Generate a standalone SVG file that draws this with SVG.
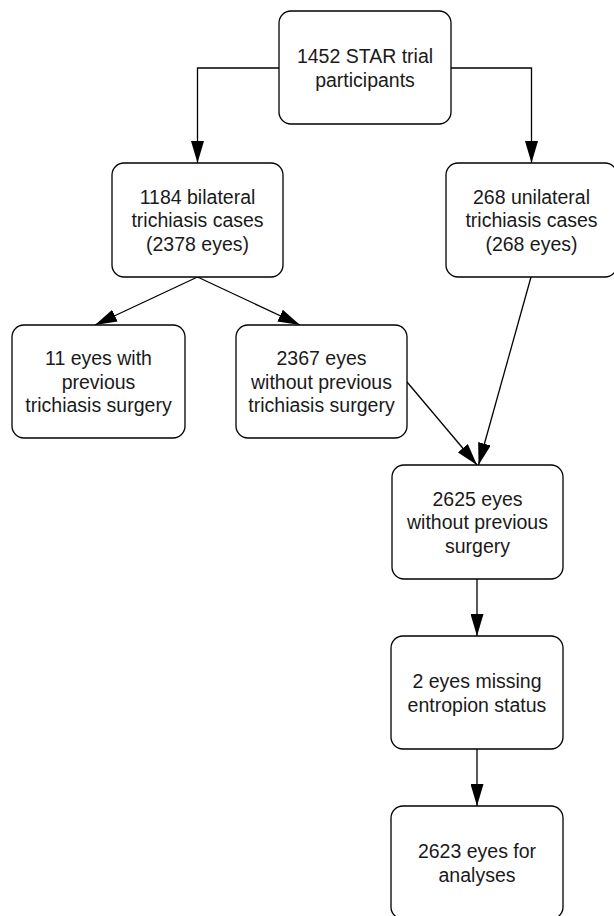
<svg xmlns="http://www.w3.org/2000/svg" width="614" height="916" viewBox="0 0 614 916">
<style>
  .box { fill: #ffffff; stroke: #000000; stroke-width: 1.3; }
  .lbl { font-family: "Liberation Sans", "DejaVu Sans", Arial, sans-serif; font-size: 19.5px; fill: #1a1a1a; text-anchor: middle; }
  .edge { fill: none; stroke: #000000; stroke-width: 1.3; marker-end: url(#arrow); }
</style>
<defs>
  <marker id="arrow" markerUnits="userSpaceOnUse" viewBox="0 0 22 13" markerWidth="22" markerHeight="13" refX="22" refY="6.5" orient="auto">
    <path d="M0,0 L22,6.5 L0,13 Z" fill="#000000"/>
  </marker>
</defs>
<rect width="614" height="916" fill="#ffffff"/>

<g id="connectors">
  <polyline class="edge" points="279,68 197.5,68 197.5,163"/>
  <polyline class="edge" points="451,68 531.5,68 531.5,163"/>
  <line class="edge" x1="197.5" y1="277" x2="95" y2="325"/>
  <line class="edge" x1="197.5" y1="277" x2="300" y2="325"/>
  <line class="edge" x1="531" y1="277" x2="478.5" y2="465"/>
  <line class="edge" x1="407" y1="382" x2="477" y2="465"/>
  <line class="edge" x1="477" y1="579" x2="477" y2="636"/>
  <line class="edge" x1="477" y1="749" x2="477" y2="806"/>
</g>

<g id="n_participants">
  <rect class="box" x="279" y="11" width="172" height="113" rx="12" ry="12"/>
  <text class="lbl" x="365" y="63">1452 STAR trial</text>
  <text class="lbl" x="365" y="86.5">participants</text>
</g>

<g id="n_bilateral">
  <rect class="box" x="112" y="163" width="171" height="114" rx="12" ry="12"/>
  <text class="lbl" x="197.5" y="203.5">1184 bilateral</text>
  <text class="lbl" x="197.5" y="227">trichiasis cases</text>
  <text class="lbl" x="197.5" y="250.5">(2378 eyes)</text>
</g>

<g id="n_unilateral">
  <rect class="box" x="446" y="163" width="171" height="114" rx="12" ry="12"/>
  <text class="lbl" x="531.5" y="203.5">268 unilateral</text>
  <text class="lbl" x="531.5" y="227">trichiasis cases</text>
  <text class="lbl" x="531.5" y="250.5">(268 eyes)</text>
</g>

<g id="n_previous">
  <rect class="box" x="12" y="325" width="173" height="113" rx="12" ry="12"/>
  <text class="lbl" x="98.5" y="365">11 eyes with</text>
  <text class="lbl" x="98.5" y="388.5">previous</text>
  <text class="lbl" x="98.5" y="412">trichiasis surgery</text>
</g>

<g id="n_without2367">
  <rect class="box" x="236" y="325" width="171" height="113" rx="12" ry="12"/>
  <text class="lbl" x="321.5" y="365">2367 eyes</text>
  <text class="lbl" x="321.5" y="388.5">without previous</text>
  <text class="lbl" x="321.5" y="412">trichiasis surgery</text>
</g>

<g id="n_without2625">
  <rect class="box" x="392" y="465" width="171" height="114" rx="12" ry="12"/>
  <text class="lbl" x="477.5" y="505.5">2625 eyes</text>
  <text class="lbl" x="477.5" y="529">without previous</text>
  <text class="lbl" x="477.5" y="552.5">surgery</text>
</g>

<g id="n_missing">
  <rect class="box" x="391" y="636" width="172" height="113" rx="12" ry="12"/>
  <text class="lbl" x="477" y="688">2 eyes missing</text>
  <text class="lbl" x="477" y="711.5">entropion status</text>
</g>

<g id="n_analyses">
  <rect class="box" x="391" y="806" width="172" height="113" rx="12" ry="12"/>
  <text class="lbl" x="477" y="858">2623 eyes for</text>
  <text class="lbl" x="477" y="881.5">analyses</text>
</g>
</svg>
